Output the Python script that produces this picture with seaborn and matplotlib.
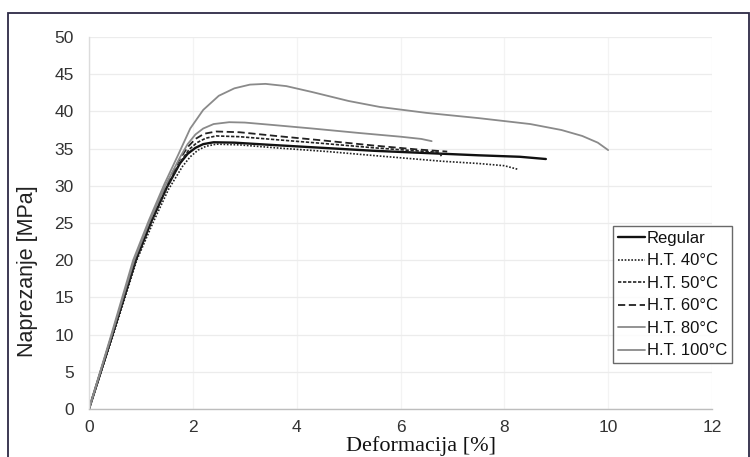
import matplotlib
matplotlib.use("Agg")
import matplotlib.pyplot as plt
import matplotlib.patches as patches
import seaborn as sns
import pandas as pd

# ---- data ----
regular_x = [0, 0.45, 0.9, 1.2, 1.5, 1.75, 1.9, 2.05, 2.2, 2.4, 2.8, 3.5, 4.5, 5.5, 6.5, 7.5, 8.3, 8.8]
regular_y = [0, 10, 20, 25.2, 29.8, 33.0, 34.3, 35.1, 35.6, 35.85, 35.8, 35.5, 35.1, 34.7, 34.4, 34.1, 33.9, 33.6]

ht40_x = [0, 0.47, 0.92, 1.23, 1.53, 1.8, 1.95, 2.1, 2.25, 2.45, 2.9, 3.6, 4.6, 5.6, 6.8, 7.5, 8.0, 8.27]
ht40_y = [0, 10, 20, 25, 29.5, 32.6, 33.9, 34.8, 35.3, 35.6, 35.5, 35.1, 34.6, 34.0, 33.3, 33.0, 32.7, 32.2]

ht50_x = [0, 0.46, 0.9, 1.2, 1.5, 1.78, 1.93, 2.08, 2.25, 2.45, 2.9, 3.6, 4.5, 5.5, 6.3, 6.75, 6.8]
ht50_y = [0, 10, 20, 25.2, 29.8, 33.4, 34.9, 35.8, 36.4, 36.7, 36.6, 36.2, 35.7, 35.1, 34.7, 34.5, 33.8]

ht60_x = [0, 0.45, 0.88, 1.18, 1.48, 1.75, 1.9, 2.05, 2.22, 2.45, 2.9, 3.6, 4.5, 5.5, 6.3, 6.9]
ht60_y = [0, 10, 20, 25.3, 30, 33.6, 35.2, 36.3, 37.0, 37.3, 37.2, 36.7, 36.1, 35.4, 34.9, 34.6]

ht80_x = [0, 0.44, 0.87, 1.17, 1.47, 1.75, 1.9, 2.05, 2.2, 2.4, 2.7, 3.0, 3.5, 4.3, 5.2, 6.0, 6.4, 6.6]
ht80_y = [0, 10, 20, 25.3, 30, 33.8, 35.6, 36.9, 37.7, 38.3, 38.55, 38.5, 38.2, 37.7, 37.1, 36.6, 36.3, 36.0]

ht100_x = [0, 0.43, 0.85, 1.15, 1.45, 1.72, 1.95, 2.2, 2.5, 2.8, 3.1, 3.4, 3.8, 4.3, 5.0, 5.6,
           6.5, 7.5, 8.5, 9.1, 9.5, 9.8, 10.0]
ht100_y = [0, 10, 20, 25.3, 30.2, 34.2, 37.7, 40.2, 42.1, 43.1, 43.6, 43.7, 43.4, 42.6, 41.4, 40.6,
           39.8, 39.1, 38.3, 37.5, 36.7, 35.8, 34.8]

labels = ["Regular", "H.T. 40°C", "H.T. 50°C", "H.T. 60°C", "H.T. 80°C", "H.T. 100°C"]
x_ticks = [0, 2, 4, 6, 8, 10, 12]
y_ticks = [0, 5, 10, 15, 20, 25, 30, 35, 40, 45, 50]

series = [(regular_x, regular_y), (ht40_x, ht40_y), (ht50_x, ht50_y),
          (ht60_x, ht60_y), (ht80_x, ht80_y), (ht100_x, ht100_y)]
styles = [
    dict(color="#111111", lw=1.7, ls="-"),
    dict(color="#222222", lw=1.2, ls=(0, (1, 1))),
    dict(color="#222222", lw=1.2, ls=(0, (2, 1))),
    dict(color="#222222", lw=1.3, ls=(0, (4, 2))),
    dict(color="#8a8a8a", lw=1.3, ls="-"),
    dict(color="#8a8a8a", lw=1.3, ls="-"),
]

sns.set_theme(style="white")
plt.rcParams["font.family"] = ["Liberation Sans", "DejaVu Sans"]

fig = plt.figure(figsize=(7.5, 4.57), dpi=100)
ax = fig.add_axes([89 / 750, 48 / 457, 623 / 750, 372 / 457])

for (xs, ys), lab, st in zip(series, labels, styles):
    df = pd.DataFrame({"x": xs, "y": ys})
    sns.lineplot(data=df, x="x", y="y", ax=ax, sort=False, label=lab,
                 color=st["color"], linewidth=st["lw"], linestyle=st["ls"], estimator=None)

ax.set_xlim(0, 12)
ax.set_ylim(0, 50)
ax.set_xticks(x_ticks)
ax.set_yticks(y_ticks)
ax.grid(True, axis="y", color="#ececec", lw=0.9)
ax.grid(True, axis="x", color="#f3f3f3", lw=0.9)
for s in ["top", "right"]:
    ax.spines[s].set_visible(False)
ax.spines["bottom"].set_color("#bdbdbd")
ax.spines["bottom"].set_linewidth(1.0)
ax.spines["left"].set_color("#dcdcdc")
ax.spines["left"].set_linewidth(1.0)
ax.tick_params(axis="both", length=0, labelsize=12.5, labelcolor="#333333")
ax.tick_params(axis="y", pad=11)
ax.tick_params(axis="x", pad=8)

ax.set_ylabel("Naprezanje [MPa]", fontsize=15.5, color="#222222")
ax.yaxis.set_label_coords(-0.098, 0.37)
ax.yaxis.label.set_va("center")
ax.set_xlabel("Deformacija [%]", fontsize=16, color="#111111", family=["Liberation Serif", "DejaVu Serif"])
ax.xaxis.set_label_coords(0.533, -0.10)
ax.xaxis.label.set_va("center")

leg = ax.legend(loc="upper left", bbox_to_anchor=(0.841, 0.492), borderaxespad=0,
                fontsize=12, frameon=True, fancybox=False, edgecolor="#444444",
                handlelength=1.6, handletextpad=0.12, labelspacing=0.45, borderpad=0.3)
leg.get_frame().set_linewidth(1.0)
for t in leg.get_texts():
    t.set_color("#111111")

rect = patches.Rectangle((8 / 750, -0.05), 741 / 750, 1.05 - 13 / 457, transform=fig.transFigure,
                         fill=False, edgecolor="#2d2a45", lw=1.3, clip_on=False)
fig.patches.append(rect)

fig.savefig("out.png", dpi=100)
